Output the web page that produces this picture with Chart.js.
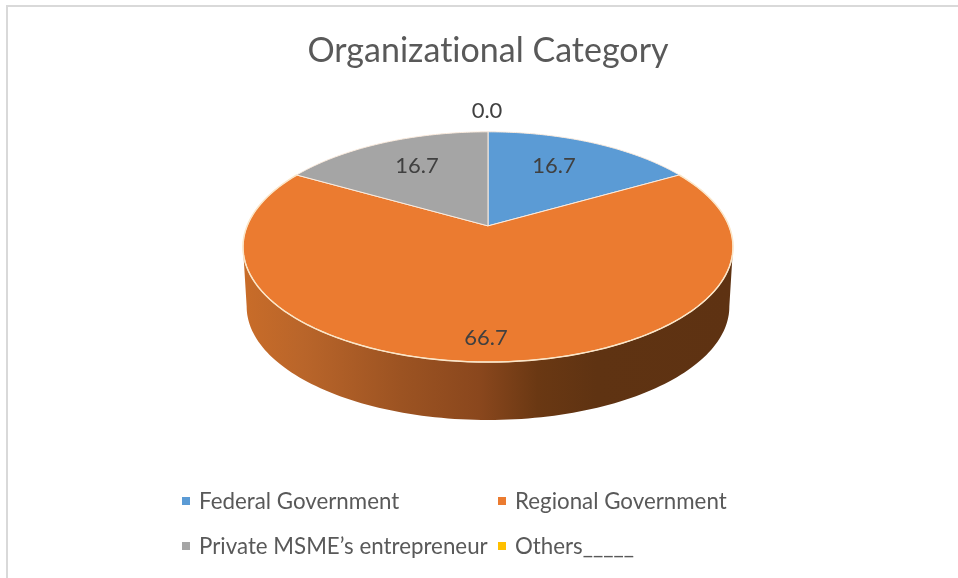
<!DOCTYPE html>
<html>
<head>
<meta charset="utf-8">
<title>Organizational Category</title>
<script src="https://cdn.jsdelivr.net/npm/chart.js"></script>
<style>
  html, body { margin: 0; padding: 0; background: #fff; overflow: hidden; }
  #frame { position: absolute; left: 6px; top: 5px; width: 960px; height: 600px; border-left: 2px solid #d9d9d9; border-top: 2px solid #d9d9d9; }
  #pie { position: absolute; left: 0; top: 0; }
</style>
</head>
<body>
<div id="frame"></div>
<canvas id="pie" width="958" height="578"></canvas>
<script>
const categories = ["Federal Government", "Regional Government", "Private MSME\u2019s entrepreneur", "Others_____"];
const shares = [16.7, 66.7, 16.7, 0.0];
const sliceColors = ["#5B9BD5", "#EB7B30", "#A5A5A5", "#FFC000"];

const FONT = "Lato, Carlito, sans-serif";

// tilt of the 3D pie: how the flat circle lands on screen
const PERSP = 0.1826;
const STRETCH_X = 1.77;
const STRETCH_Y = 0.8176;
const WALL_DEPTH = 60;
const WALL_SHRINK = 0.985;

// where each value label sits: fraction of radius, then small nudge
const labelFrac = [0.7, 0.85, 0.7, 1.27];
const labelNudge = [[-10, 1], [-2, 0], [5, 1], [-1, 0]];

// legend grid
const legendX = [182, 498];
const legendY = [501, 546];

function project(arc, theta, frac) {
  const u = Math.sin(theta) * frac;
  const v = Math.cos(theta) * frac;
  const d = 1 + PERSP * v;
  return {
    x: arc.x + arc.outerRadius * STRETCH_X * u / d,
    y: arc.y - arc.outerRadius * STRETCH_Y * v / d
  };
}

function sliceThetas(arc) {
  return [arc.startAngle + Math.PI / 2, arc.endAngle + Math.PI / 2];
}

const tiltedPie = {
  id: "tiltedPie",
  beforeDraw(chart) {
    // stops Lato joining "ti" into a ligature, the reference has none
    chart.ctx.letterSpacing = "0.01px";
  },
  beforeDatasetDraw(chart) {
    const ctx = chart.ctx;
    const arcs = chart.getDatasetMeta(0).data;
    const from = Math.PI / 2 + Math.asin(PERSP);
    const to = Math.PI * 1.5 - Math.asin(PERSP);

    // side wall, only for what faces the viewer
    arcs.forEach(arc => {
      const [a, b] = sliceThetas(arc);
      const start = Math.max(a, from);
      const end = Math.min(b, to);
      if (end <= start) return;
      const grad = ctx.createLinearGradient(245, 0, 733, 0);
      grad.addColorStop(0, "#C86C29");
      grad.addColorStop(0.12, "#B9652A");
      grad.addColorStop(0.32, "#9C5322");
      grad.addColorStop(0.48, "#8A471D");
      grad.addColorStop(0.6, "#6A3813");
      grad.addColorStop(0.72, "#5F3312");
      grad.addColorStop(1, "#5E3212");
      ctx.beginPath();
      const steps = 120;
      for (let i = 0; i <= steps; i++) {
        const p = project(arc, start + (end - start) * i / steps, 1);
        if (i === 0) ctx.moveTo(p.x, p.y); else ctx.lineTo(p.x, p.y);
      }
      for (let i = steps; i >= 0; i--) {
        const p = project(arc, start + (end - start) * i / steps, 1);
        ctx.lineTo(arc.x + (p.x - arc.x) * WALL_SHRINK, arc.y + (p.y - arc.y) * WALL_SHRINK + WALL_DEPTH);
      }
      ctx.closePath();
      ctx.fillStyle = grad;
      ctx.fill();
    });

    // top face
    arcs.forEach((arc, i) => {
      const [a, b] = sliceThetas(arc);
      if (b - a <= 0) return;
      ctx.beginPath();
      ctx.moveTo(arc.x, arc.y);
      const steps = 120;
      for (let s = 0; s <= steps; s++) {
        const p = project(arc, a + (b - a) * s / steps, 1);
        ctx.lineTo(p.x, p.y);
      }
      ctx.closePath();
      ctx.fillStyle = sliceColors[i];
      ctx.fill();
      ctx.strokeStyle = "#FBEBDD";
      ctx.lineWidth = 1;
      ctx.stroke();
    });

    // brighter rim along the front edge
    const arc = arcs[1];
    const [a, b] = sliceThetas(arc);
    ctx.beginPath();
    for (let s = 0; s <= 120; s++) {
      const p = project(arc, a + (b - a) * s / 120, 1);
      if (s === 0) ctx.moveTo(p.x, p.y); else ctx.lineTo(p.x, p.y);
    }
    ctx.strokeStyle = "#FBE6C8";
    ctx.lineWidth = 1.5;
    ctx.stroke();

    return false; // the native flat arcs are replaced by the tilted ones
  },
  afterDraw(chart) {
    const ctx = chart.ctx;
    const arcs = chart.getDatasetMeta(0).data;
    ctx.save();

    // value labels
    ctx.font = "22px " + FONT;
    ctx.fillStyle = "#404040";
    ctx.textAlign = "center";
    ctx.textBaseline = "middle";
    arcs.forEach((arc, i) => {
      const [a, b] = sliceThetas(arc);
      const p = project(arc, (a + b) / 2, labelFrac[i]);
      ctx.fillText(shares[i].toFixed(1), p.x + labelNudge[i][0], p.y + labelNudge[i][1]);
    });

    // legend, two fixed columns
    ctx.font = "22.3px " + FONT;
    ctx.textAlign = "left";
    categories.forEach((name, i) => {
      const x = legendX[i % 2];
      const y = legendY[Math.floor(i / 2)];
      ctx.fillStyle = sliceColors[i];
      ctx.fillRect(x, y - 4, 8, 8);
      ctx.fillStyle = "#595959";
      ctx.fillText(name, x + 17, y + 1);
    });
    ctx.restore();
  }
};

new Chart(document.getElementById("pie"), {
  type: "pie",
  data: {
    labels: categories,
    datasets: [{ data: shares, backgroundColor: sliceColors, borderWidth: 0 }]
  },
  options: {
    responsive: false,
    animation: false,
    layout: { padding: { top: 0, left: 18, right: 0, bottom: 216 } },
    plugins: {
      legend: { display: false },
      tooltip: { enabled: false },
      title: {
        display: true,
        text: "Organizational Category",
        color: "#595959",
        font: { family: FONT, size: 34, weight: "normal" },
        padding: { top: 31, bottom: 18 }
      }
    }
  },
  plugins: [tiltedPie]
});
</script>
</body>
</html>
